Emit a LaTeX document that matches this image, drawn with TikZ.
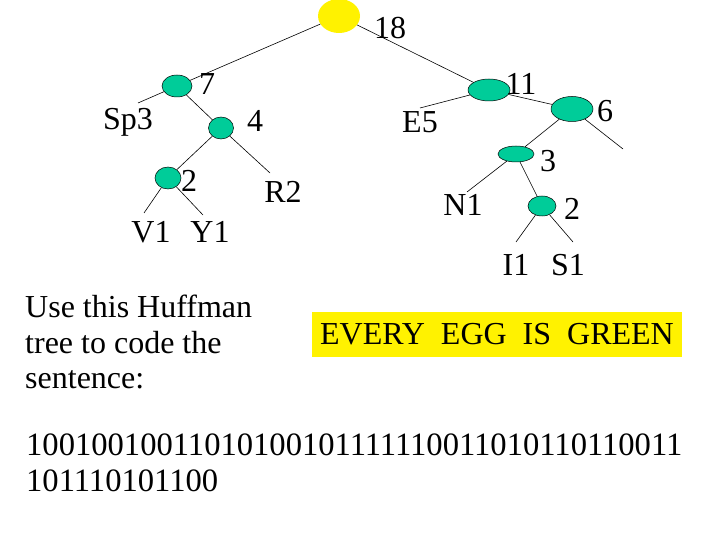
\documentclass[tikz,border=0pt]{standalone}
\usepackage{fontspec}
\setmainfont{Liberation Serif}
\usetikzlibrary{shapes.geometric}
\definecolor{nodegreen}{RGB}{0,204,153}
\tikzset{
  tnode/.style={ellipse, draw=black, line width=0.5pt, fill=nodegreen, inner sep=0pt},
  lbl/.style={anchor=base, inner sep=0pt, font=\fontsize{32}{38}\selectfont},
  txt/.style={anchor=base west, inner sep=0pt, font=\fontsize{32}{38}\selectfont},
  code/.style={anchor=base west, inner sep=0pt, font=\fontsize{32.6}{38}\selectfont},
  edge/.style={draw=black, line width=0.6pt}
}
\begin{document}
\begin{tikzpicture}[x=1pt,y=-1pt]
\useasboundingbox (0,0) rectangle (720,540);
% nodes
\node[ellipse, fill=yellow, inner sep=0pt, minimum width=42pt, minimum height=34pt] (root) at (339,16) {};
\node[tnode, minimum width=30pt, minimum height=22pt] (n7) at (177,86) {};
\node[tnode, minimum width=25pt, minimum height=22pt] (n4) at (221,128) {};
\node[tnode, minimum width=26pt, minimum height=22pt] (n2l) at (168,178) {};
\node[tnode, minimum width=42pt, minimum height=22pt] (n11) at (489,90) {};
\node[tnode, minimum width=42pt, minimum height=25pt] (n6) at (572,109) {};
\node[tnode, minimum width=36pt, minimum height=16pt] (n3) at (516,154) {};
\node[tnode, minimum width=28pt, minimum height=20pt] (n2r) at (542,206) {};
% leaf ends
\coordinate (cSp) at (138,103);
\coordinate (cE) at (420,108);
\coordinate (cR) at (270,173);
\coordinate (cV) at (144,213);
\coordinate (cY) at (203,215);
\coordinate (cN) at (467,192);
\coordinate (cI) at (516,242);
\coordinate (cS) at (573,242);
\coordinate (cG) at (623,149);
% edges
\draw[edge] (root) -- (n7);
\draw[edge] (root) -- (n11);
\draw[edge] (n7) -- (cSp);
\draw[edge] (n7) -- (n4);
\draw[edge] (n4) -- (n2l);
\draw[edge] (n4) -- (cR);
\draw[edge] (n2l) -- (cV);
\draw[edge] (n2l) -- (cY);
\draw[edge] (n11) -- (cE);
\draw[edge] (n11) -- (n6);
\draw[edge] (n6) -- (n3);
\draw[edge] (n6) -- (cG);
\draw[edge] (n3) -- (cN);
\draw[edge] (n3) -- (n2r);
\draw[edge] (n2r) -- (cI);
\draw[edge] (n2r) -- (cS);
% labels
\node[lbl] (l18) at (390,39) {18};
\node[lbl] (l7) at (207,95) {7};
\node[lbl] (lSp) at (128,130) {Sp3};
\node[lbl] (l4) at (255,132) {4};
\node[lbl] (lE) at (420,133) {E5};
\node[lbl] (l11) at (521,95) {11};
\node[lbl] (l6) at (605,122) {6};
\node[lbl] (l3) at (548,172) {3};
\node[lbl] (lN) at (463,215) {N1};
\node[lbl] (l2r) at (572,220) {2};
\node[lbl] (lI) at (516,275) {I1};
\node[lbl] (lS) at (568,275) {S1};
\node[lbl] (l2l) at (189,192) {2};
\node[lbl] (lR) at (283,203) {R2};
\node[lbl] (lV) at (151,243) {V1};
\node[lbl] (lY) at (210,243) {Y1};
% instruction text
\node[txt] (t1) at (25,317) {Use this Huffman};
\node[txt] (t2) at (25,353) {tree to code the};
\node[txt] (t3) at (25,388) {sentence:};
% yellow box
\node[fill=yellow, inner sep=0pt, minimum width=370pt, minimum height=45pt, font=\fontsize{32}{38}\selectfont] (box) at (497,334.5) {EVERY\hspace{16pt}EGG\hspace{16pt}IS\hspace{16pt}GREEN};
% code
\node[code] (b1) at (26,455) {10010010011010100101111110011010110110011};
\node[code] (b2) at (26,491) {101110101100};
\end{tikzpicture}
\end{document}
